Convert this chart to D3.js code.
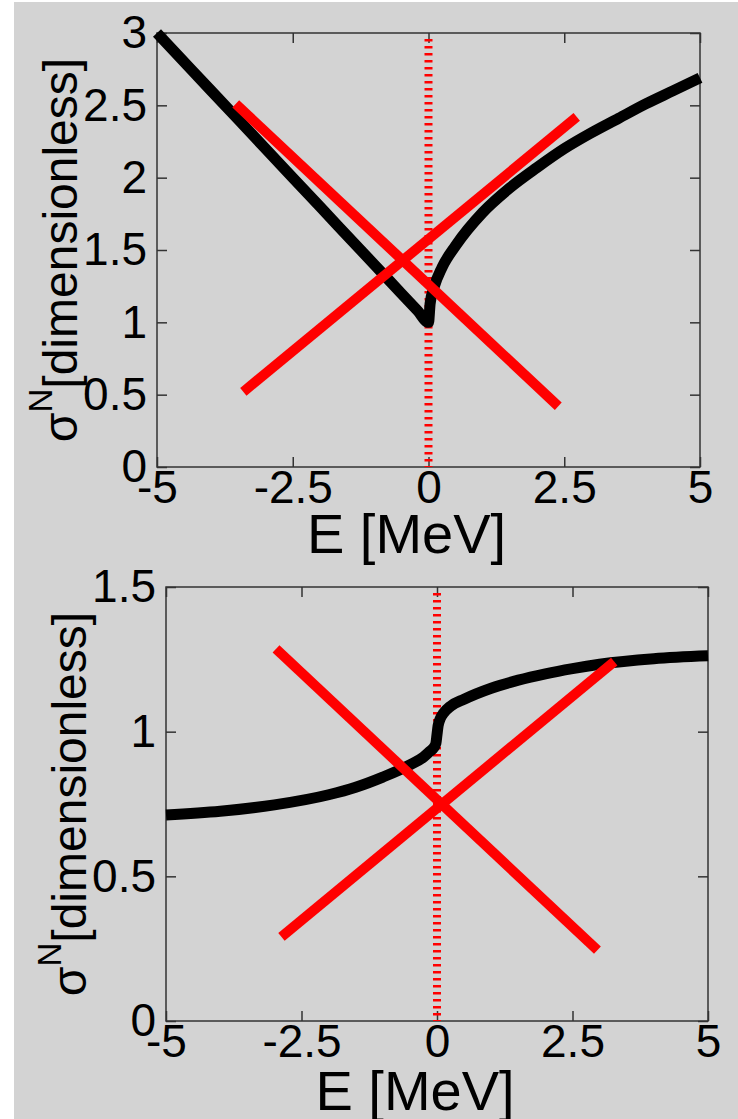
<!DOCTYPE html>
<html>
<head>
<meta charset="utf-8">
<script src="https://cdn.jsdelivr.net/npm/d3@7"></script>
<style>
    body { margin: 0; background: #fff; }
    svg { display: block; }
    text { font-family: "Liberation Sans", Arial, sans-serif; fill: #000; }
</style>
</head>
<body>
<div id="chart"></div>
<script>
// tick values shared by both panels
const xTicks = [-5, -2.5, 0, 2.5, 5];
const topYTicks = [0, 0.5, 1, 1.5, 2, 2.5, 3];
const bottomYTicks = [0, 0.5, 1, 1.5];

// top panel: black curve
const topCurveE = [-5, -4, -3, -2, -1, -0.5, -0.2, 0, 0.03, 0.1, 0.25, 0.5, 1, 1.5, 2, 2.5, 3, 3.5, 4, 4.5, 5];
const topCurveV = [3.0, 2.6, 2.2, 1.8, 1.4, 1.2, 1.08, 1.0, 1.13, 1.24, 1.38, 1.53, 1.76, 1.93, 2.07, 2.20, 2.31, 2.41, 2.51, 2.60, 2.69];
// top panel: red straight lines (end points)
const topRedDownE = [-3.55, 2.39];
const topRedDownV = [2.51, 0.42];
const topRedUpE = [-3.41, 2.73];
const topRedUpV = [0.52, 2.42];

// bottom panel: black curve
const bottomCurveE = [-5, -4, -3, -2, -1.5, -1, -0.5, -0.25, -0.13, -0.06, -0.02, 0, 0.02, 0.06, 0.12, 0.25, 0.5, 1, 1.5, 2, 2.5, 3, 4, 5];
const bottomCurveV = [0.712, 0.725, 0.747, 0.782, 0.808, 0.843, 0.885, 0.912, 0.932, 0.945, 0.96, 0.99, 1.02, 1.045, 1.064, 1.088, 1.112, 1.15, 1.178, 1.2, 1.218, 1.233, 1.252, 1.262];
// bottom panel: red straight lines
const bottomRedDownE = [-2.97, 2.96];
const bottomRedDownV = [1.286, 0.245];
const bottomRedUpE = [-2.87, 3.27];
const bottomRedUpV = [0.291, 1.242];

const width = 738;
const height = 1119;

const svg = d3.select("#chart").append("svg")
    .attr("width", width)
    .attr("height", height);

// gray canvas
svg.append("rect")
    .attr("x", 14)
    .attr("y", 2)
    .attr("width", width - 14)
    .attr("height", height - 2)
    .attr("fill", "#d3d3d3");

const zip = (a, b) => a.map((d, i) => [d, b[i]]);

function drawPanel(p) {
    const x = d3.scaleLinear().domain([-5, 5]).range([p.left, p.right]);
    const y = d3.scaleLinear().domain([0, p.yMax]).range([p.bottom, p.top]);
    const g = svg.append("g");

    // ticks, pointing inwards on every side
    const styleAxis = sel => {
        sel.select(".domain").remove();
        sel.selectAll(".tick line").attr("stroke", "#333").attr("stroke-width", 1.5);
        sel.selectAll(".tick text")
            .style("font-size", "46px")
            .style("font-family", '"Liberation Sans", Arial, sans-serif')
            .attr("fill", "#000");
    };

    g.append("g")
        .attr("transform", `translate(0,${p.bottom})`)
        .call(d3.axisBottom(x).tickValues(xTicks).tickSizeInner(-10).tickSizeOuter(0)
            .tickPadding(3).tickFormat(d => String(d)))
        .call(styleAxis);

    g.append("g")
        .attr("transform", `translate(0,${p.top})`)
        .call(d3.axisTop(x).tickValues(xTicks).tickSizeInner(-10).tickSizeOuter(0).tickFormat(""))
        .call(styleAxis);

    g.append("g")
        .attr("transform", `translate(${p.left},0)`)
        .call(d3.axisLeft(y).tickValues(p.yTicks).tickSizeInner(-10).tickSizeOuter(0)
            .tickPadding(10).tickFormat(d => String(d)))
        .call(styleAxis);

    g.append("g")
        .attr("transform", `translate(${p.right},0)`)
        .call(d3.axisRight(y).tickValues(p.yTicks).tickSizeInner(-10).tickSizeOuter(0).tickFormat(""))
        .call(styleAxis);

    // frame
    g.append("rect")
        .attr("x", p.left)
        .attr("y", p.top)
        .attr("width", p.right - p.left)
        .attr("height", p.bottom - p.top)
        .attr("fill", "none")
        .attr("stroke", "#333")
        .attr("stroke-width", 1.5);

    // dotted threshold line at E = 0
    g.append("line")
        .attr("x1", x(0)).attr("x2", x(0))
        .attr("y1", y(p.yMax) + 6).attr("y2", y(0))
        .attr("stroke", "#f00")
        .attr("stroke-width", 8)
        .attr("stroke-dasharray", "2.5,4.5");

    const line = d3.line()
        .x(d => x(d[0]))
        .y(d => y(d[1]));

    g.append("path")
        .datum(zip(p.curveE, p.curveV))
        .attr("d", line.curve(d3.curveMonotoneX))
        .attr("fill", "none")
        .attr("stroke", "#000")
        .attr("stroke-width", 11)
        .attr("stroke-linejoin", "round");

    const straight = d3.line().x(d => x(d[0])).y(d => y(d[1]));
    [zip(p.redDownE, p.redDownV), zip(p.redUpE, p.redUpV)].forEach(pts => {
        g.append("path")
            .datum(pts)
            .attr("d", straight)
            .attr("fill", "none")
            .attr("stroke", "#f00")
            .attr("stroke-width", 10);
    });

    // axis titles
    g.append("text")
        .attr("x", (p.left + p.right) / 2 - 22)
        .attr("y", p.bottom + p.xLabelGap)
        .attr("text-anchor", "middle")
        .style("font-size", "56px")
        .text("E [MeV]");

    const yl = g.append("text")
        .attr("transform", `translate(${p.left - 80},${(p.top + p.bottom) / 2}) rotate(-90)`)
        .attr("text-anchor", "middle")
        .style("font-size", "48px");
    yl.append("tspan").text("σ");
    yl.append("tspan").attr("dy", -25).style("font-size", "33px").text("N");
    yl.append("tspan").attr("dy", 25).text("[dimensionless]");
}

drawPanel({
    left: 157, right: 700, top: 33, bottom: 467, xLabelGap: 86,
    yMax: 3, yTicks: topYTicks,
    curveE: topCurveE, curveV: topCurveV,
    redDownE: topRedDownE, redDownV: topRedDownV,
    redUpE: topRedUpE, redUpV: topRedUpV
});

drawPanel({
    left: 166, right: 708, top: 587, bottom: 1021, xLabelGap: 89,
    yMax: 1.5, yTicks: bottomYTicks,
    curveE: bottomCurveE, curveV: bottomCurveV,
    redDownE: bottomRedDownE, redDownV: bottomRedDownV,
    redUpE: bottomRedUpE, redUpV: bottomRedUpV
});
</script>
</body>
</html>
